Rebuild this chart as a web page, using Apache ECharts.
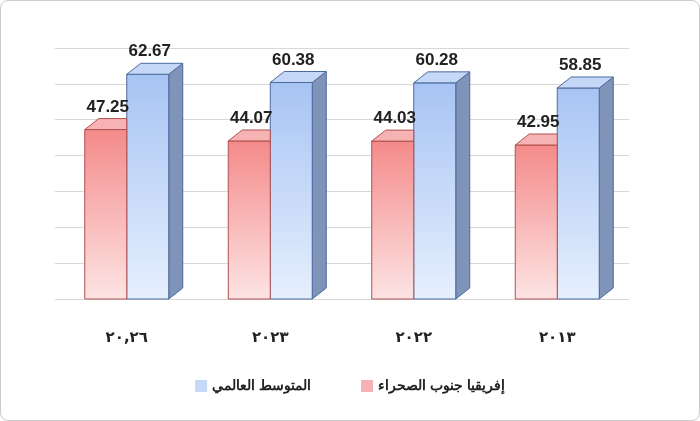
<!DOCTYPE html><html><head><meta charset="utf-8"><script src="https://cdn.jsdelivr.net/npm/echarts@6/dist/echarts.min.js"></script>
<style>html,body{margin:0;padding:0;background:#fff}#c{width:700px;height:421px;box-sizing:border-box;border:1px solid #ccc;border-radius:8px}</style></head><body><div id="c"></div><script>
const categories=['٢٠,٢٦','٢٠٢٣','٢٠٢٢','٢٠١٣'];
const africa=[47.25,44.07,44.03,42.95];
const world=[62.67,60.38,60.28,58.85];
const names=['إفريقيا جنوب الصحراء','المتوسط العالمي'];
const chart=echarts.init(document.getElementById('c'));
function mk(offsetSign,cols){
 return function(params,api){
  const i=api.value(0),v=api.value(1);
  const p=api.coord([i,v]),b=api.coord([i,0]);
  const w=42,d=14,h=11;
  const front=offsetSign<0;
  const x=front?p[0]-w:p[0];
  const top=p[1],bot=b[1];
  const ch=[];
  if(!front) ch.push({type:'polygon',shape:{points:[[x+w,top],[x+w+d,top-h],[x+w+d,bot-h],[x+w,bot]]},style:{fill:cols.side,stroke:cols.stroke,lineWidth:1}});
  ch.push({type:'rect',shape:{x:x,y:top,width:w,height:bot-top},style:{fill:new echarts.graphic.LinearGradient(0,0,0,1,[{offset:0,color:cols.top},{offset:1,color:cols.bot}]),stroke:cols.stroke,lineWidth:1}});
  const capR=front?x+w:x+w+d;
  ch.push({type:'polygon',shape:{points:front?[[x,top],[x+d,top-h],[capR,top-h],[x+w,top]]:[[x,top],[x+d,top-h],[x+w+d,top-h],[x+w,top]]},style:{fill:cols.cap,stroke:cols.stroke,lineWidth:1}});
  ch.push({type:'text',style:{text:v.toFixed(2),x:x+w/2+2,y:top-14,align:'center',verticalAlign:'bottom',font:'bold 17px Arial, "Liberation Sans"',fill:'#222'}});
  return {type:'group',children:ch};
 };
}
const red={top:'#f48a8a',bot:'#fde4e4',side:'#c8716f',cap:'#f7b3b3',stroke:'#b05050'};
const blue={top:'#a8c4f4',bot:'#e6effd',side:'#7f94b8',cap:'#c6d8f7',stroke:'#4a6a9e'};
chart.setOption({
 grid:{left:54,right:70,top:47,bottom:121},
 legend:{bottom:22,itemWidth:12,itemHeight:12,itemGap:50,icon:'rect',textStyle:{fontSize:14,fontWeight:'bold',color:'#222',fontFamily:'Arial'},data:[names[1],names[0]]},
 xAxis:{type:'category',data:categories,axisLine:{show:false},axisTick:{show:false},axisLabel:{margin:32,fontSize:15,fontWeight:'bold',color:'#222',fontFamily:'"DejaVu Sans"'}},
 yAxis:{type:'value',min:0,max:70,interval:10,axisLabel:{show:false},splitLine:{lineStyle:{color:'#d8d8d8'}}},
 series:[
  {name:names[0],type:'custom',z:4,renderItem:mk(-1,red),itemStyle:{color:'#f7b3b3',borderColor:'#b05050'},data:africa.map((v,i)=>[i,v]),encode:{x:0,y:1}},
  {name:names[1],type:'custom',z:2,renderItem:mk(1,blue),itemStyle:{color:'#c6d8f7',borderColor:'#4a6a9e'},data:world.map((v,i)=>[i,v]),encode:{x:0,y:1}}
 ]
});
</script></body></html>
